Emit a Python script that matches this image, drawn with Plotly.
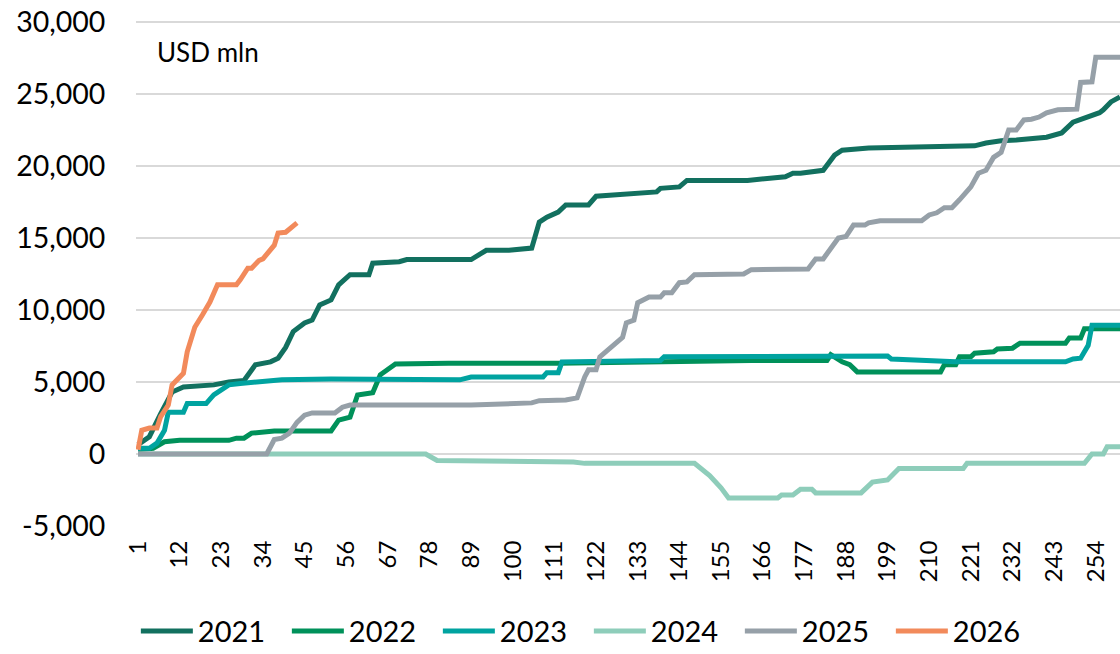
import plotly.graph_objects as go

# cumulative flows by trading day, USD mln (at the turning points)
days_2021 = [1, 4, 7, 10, 13, 21, 25, 29, 32, 36, 38, 40, 42, 45, 47, 49, 52, 54, 57, 62, 63, 70, 72,
             89, 93, 99, 105, 107, 109, 112, 114, 120, 122, 127, 132, 138, 139, 144, 146, 162, 172, 174,
             176, 179, 182, 185, 187, 194, 202, 222, 225, 229, 233, 241, 245, 248, 255, 256, 258, 260.4]
vals_2021 = [650, 1200, 2800, 4300, 4650, 4800, 5000, 5100, 6200, 6400, 6650, 7400, 8500, 9100, 9300,
             10350, 10700, 11750, 12450, 12450, 13250, 13350, 13500, 13500, 14150, 14150, 14300, 16100,
             16450, 16800, 17300, 17300, 17900, 18000, 18100, 18200, 18450, 18550, 19000, 19000, 19250,
             19500, 19500, 19600, 19700, 20750, 21100, 21250, 21300, 21400, 21600, 21750, 21800, 22000,
             22300, 23050, 23700, 23900, 24450, 24800]

days_2022 = [1, 5, 8, 12, 25, 27, 29, 31, 37, 52, 54, 57, 59, 63, 65, 67, 69, 83, 112, 163, 183, 184,
             187, 189, 191, 213, 214, 217, 218, 221, 222, 227, 228, 232, 234, 246, 247, 250, 251, 260.4]
vals_2022 = [300, 400, 850, 950, 950, 1100, 1100, 1450, 1600, 1600, 2350, 2550, 4100, 4250, 5500, 5850,
             6250, 6300, 6300, 6500, 6500, 6900, 6400, 6200, 5700, 5700, 6200, 6200, 6750, 6750, 7000,
             7100, 7300, 7350, 7700, 7700, 8050, 8050, 8700, 8700]

days_2023 = [1, 4, 6, 8, 9, 13, 14, 19, 21, 22, 25, 28, 34, 39, 52, 86, 89, 108, 109, 112, 113, 139,
             140, 176, 199, 200, 204, 211, 217, 246, 248, 250, 252, 253, 260.4]
vals_2023 = [400, 400, 750, 1650, 2900, 2900, 3500, 3500, 4100, 4250, 4800, 4900, 5000, 5150, 5200,
             5150, 5350, 5350, 5650, 5650, 6400, 6500, 6750, 6750, 6800, 6600, 6550, 6500, 6400, 6400,
             6600, 6650, 7550, 8950, 8950]

days_2024 = [1, 77, 80, 112, 116, 119, 148, 152, 154, 155, 157, 170, 171, 174, 176, 179, 180, 192, 195,
             199, 202, 219, 220, 251, 253, 256, 257, 260.4]
vals_2024 = [0, 0, -450, -500, -550, -650, -650, -1500, -2000, -2350, -3050, -3050, -2850, -2850, -2450,
             -2450, -2700, -2700, -1950, -1800, -1000, -1000, -650, -650, 0, 0, 500, 500]

days_2025 = [1, 35, 37, 39, 41, 43, 45, 47, 53, 55, 57, 89, 105, 107, 114, 117, 119, 120, 122, 123, 125,
             128, 129, 130, 132, 133, 136, 139, 140, 142, 144, 146, 148, 161, 163, 178, 180, 182, 186,
             188, 190, 193, 194, 197, 208, 210, 212, 214, 216, 218, 221, 223, 225, 227, 229, 231, 233,
             235, 237, 239, 241, 244, 249, 250, 253, 254, 260.4]
vals_2025 = [0, 0, 1000, 1100, 1450, 2200, 2700, 2850, 2850, 3250, 3400, 3400, 3550, 3700, 3750, 3900,
             5350, 5850, 5850, 6750, 7200, 7900, 8100, 9100, 9300, 10500, 10900, 10900, 11200, 11200,
             11900, 11950, 12450, 12500, 12800, 12850, 13550, 13550, 15000, 15100, 15900, 15900, 16050,
             16200, 16200, 16600, 16750, 17100, 17100, 17650, 18550, 19500, 19700, 20600, 20950, 22500,
             22500, 23200, 23250, 23400, 23700, 23900, 23950, 25800, 25850, 27550, 27550]

days_2026 = [1, 2, 4, 6, 7, 9, 10, 13, 14, 16, 18, 20, 22, 27, 28, 30, 31, 33, 34, 37, 38, 40, 43]
vals_2026 = [300, 1650, 1800, 1800, 2600, 3400, 4800, 5600, 7100, 8800, 9650, 10550, 11750, 11750,
             12100, 12900, 12900, 13450, 13550, 14500, 15350, 15400, 16050]

x_ticks = list(range(1, 255, 11))
y_ticks = [-5000, 0, 5000, 10000, 15000, 20000, 25000, 30000]
y_labels = ["-5,000", "0", "5,000", "10,000", "15,000", "20,000", "25,000", "30,000"]

series = [
    ("2021", days_2021, vals_2021, "#12705F"),
    ("2022", days_2022, vals_2022, "#00915A"),
    ("2023", days_2023, vals_2023, "#00A3A0"),
    ("2024", days_2024, vals_2024, "#8ECDBA"),
    ("2025", days_2025, vals_2025, "#96A0A8"),
    ("2026", days_2026, vals_2026, "#F28A5B"),
]

fig = go.Figure()
for name, xs, ys, color in series:
    fig.add_trace(go.Scatter(
        x=xs, y=ys, name=name, mode="lines",
        line=dict(color=color, width=5)
    ))

fig.add_annotation(
    text="USD mln", xref="paper", yref="paper", x=0.019, y=0.937,
    xanchor="left", yanchor="middle", showarrow=False,
    font=dict(size=26, color="#000000")
)

fig.update_layout(
    template="plotly_white",
    width=1120,
    height=654,
    margin=dict(l=136, r=0, t=20, b=128),
    font=dict(family="Lato", color="#000000"),
    plot_bgcolor="white",
    paper_bgcolor="white",
    legend=dict(
        orientation="h", xref="container", yref="container",
        x=0.1213, y=0.035, xanchor="left", yanchor="middle",
        font=dict(size=29), entrywidth=84, itemwidth=52
    ),
    xaxis=dict(
        range=[0.47, 260.4], tickvals=x_ticks, tickangle=-90,
        showgrid=False, zeroline=False, showline=False, automargin=False,
        tickfont=dict(size=24), ticks="outside", ticklen=4, tickcolor="rgba(0,0,0,0)"
    ),
    yaxis=dict(
        range=[-5000, 30140], tickvals=y_ticks, ticktext=y_labels,
        gridcolor="#D9D9D9", gridwidth=1.5, zeroline=False, showline=False, automargin=False,
        tickfont=dict(size=28.5), ticks="outside", ticklen=24, tickcolor="rgba(0,0,0,0)",
        ticklabeloverflow="allow"
    ),
)

# drop the default 8px page margin so the figure fills the window exactly
fig.write_html(
    "out.html",
    config={"displayModeBar": False},
    post_script="document.body.style.margin = '0px';"
)
